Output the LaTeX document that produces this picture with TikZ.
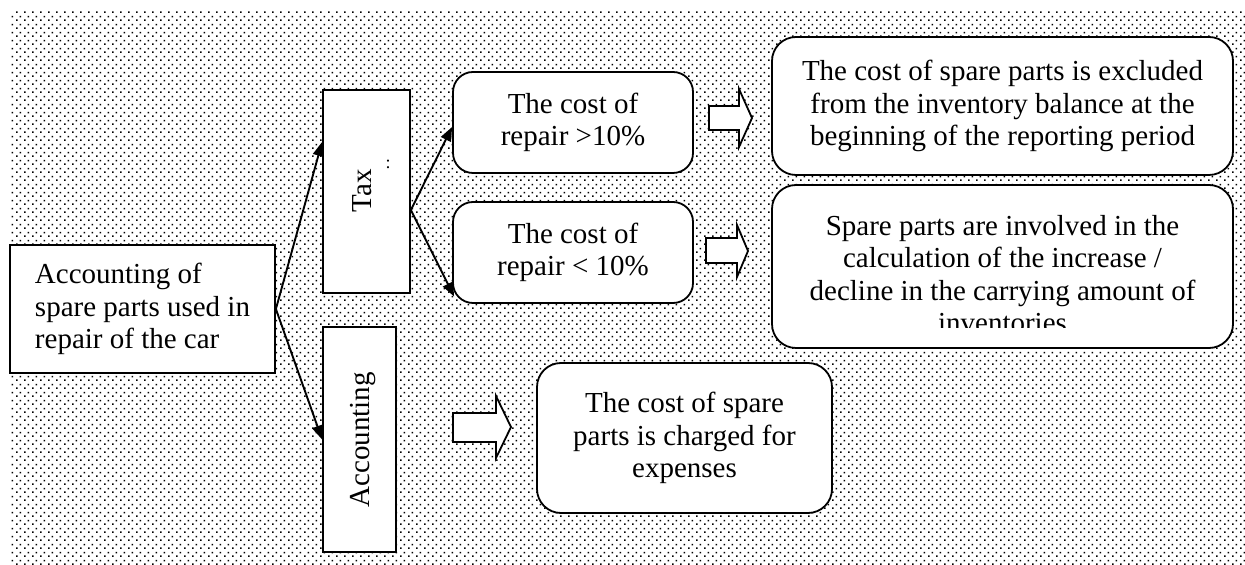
\documentclass[tikz,border=0pt]{standalone}
\usepackage{fontspec}
\setmainfont{Liberation Serif}
\usetikzlibrary{arrows.meta,patterns}
\pgfdeclarepatternformonly{sdots}{\pgfqpoint{0pt}{0pt}}{\pgfqpoint{4pt}{4pt}}{\pgfqpoint{4pt}{4pt}}{%
  \pgfpathrectangle{\pgfqpoint{0pt}{0pt}}{\pgfqpoint{0.85pt}{0.85pt}}%
  \pgfpathrectangle{\pgfqpoint{2pt}{2pt}}{\pgfqpoint{0.85pt}{0.85pt}}%
  \pgfusepath{fill}}
\begin{document}
\begin{tikzpicture}[x=0.5pt,y=-0.5pt,
  every node/.style={font=\fontsize{14.5}{16.25}\selectfont, inner sep=0pt},
  sqbox/.style={draw, fill=white, line width=0.9pt},
  rbox/.style={draw, fill=white, line width=0.9pt, rounded corners=10pt, align=center},
  bigbox/.style={rbox, rounded corners=12pt},
  conn/.style={line width=0.95pt, -{Triangle[length=7pt,width=5.5pt]}},
  blockarrow/.style={draw, fill=white, line width=0.9pt, line join=miter}]
% background
\fill[white] (0,0) rectangle (1245,565);
\fill[pattern=sdots, pattern color=black] (11,12) rectangle (1245,565);
\useasboundingbox (0,0) rectangle (1245,565);

% left box
\node[sqbox, minimum width=132.5pt, minimum height=64pt, align=left] (src) at (142.5,309)
  {Accounting of\\spare parts used in\\repair of the car};

% tax and accounting boxes
\node[sqbox, minimum width=43.5pt, minimum height=101.5pt] (tax) at (366.5,191.5) {};
\node[rotate=90] (taxt) at (362,191) {Tax};
\node[font=\fontsize{9}{10}\selectfont] (taxc) at (388,164) {:};
\node[sqbox, minimum width=36.5pt, minimum height=112.5pt] (acc) at (359.5,439.5) {};
\node[rotate=90] (acct) at (363,440) {Accounting};

% cost boxes
\node[rbox, minimum width=120pt, minimum height=50.5pt] (c1) at (573,122.5)
  {The cost of\\repair >10\%};
\node[rbox, minimum width=120pt, minimum height=50.5pt] (c2) at (573,252.5)
  {The cost of\\repair < 10\%};

% right boxes
\node[bigbox, minimum width=230.5pt, minimum height=69pt] (r1) at (1002.5,106)
  {The cost of spare parts is excluded\\from the inventory balance at the\\beginning of the reporting period};
\node[bigbox, minimum width=230.5pt, minimum height=81.5pt] (r2) at (1002.5,266.5) {};
\begin{scope}
  \clip (772,185) rectangle (1233,328);
  \node[align=center] (r2t) at (1002.5,274)
    {Spare parts are involved in the\\calculation of the increase /\\decline in the carrying amount of\\inventories};
\end{scope}
\node[bigbox, minimum width=147.5pt, minimum height=75pt] (r3) at (684.5,438)
  {The cost of spare\\parts is charged for\\expenses};

% block arrows
\draw[blockarrow] (709,106) -- (739,106) -- (739,89) -- (752,118) -- (739,147) -- (739,130) -- (709,130) -- cycle;
\draw[blockarrow] (706,238) -- (737,238) -- (737,225) -- (748,251) -- (737,277) -- (737,263) -- (706,263) -- cycle;
\draw[blockarrow] (453,413) -- (496,413) -- (496,396) -- (511,427) -- (496,458) -- (496,442) -- (453,442) -- cycle;

% connectors
\draw[conn] (src.east) -- ([yshift=24.75pt]tax.west);
\draw[conn] (src.east) -- (acc.west);
\draw[conn] ([yshift=-9.25pt]tax.east) -- ([yshift=-2.25pt]c1.west);
\draw[conn] ([yshift=-9.25pt]tax.east) -- ([xshift=1pt,yshift=-22pt]c2.west);
\end{tikzpicture}
\end{document}
